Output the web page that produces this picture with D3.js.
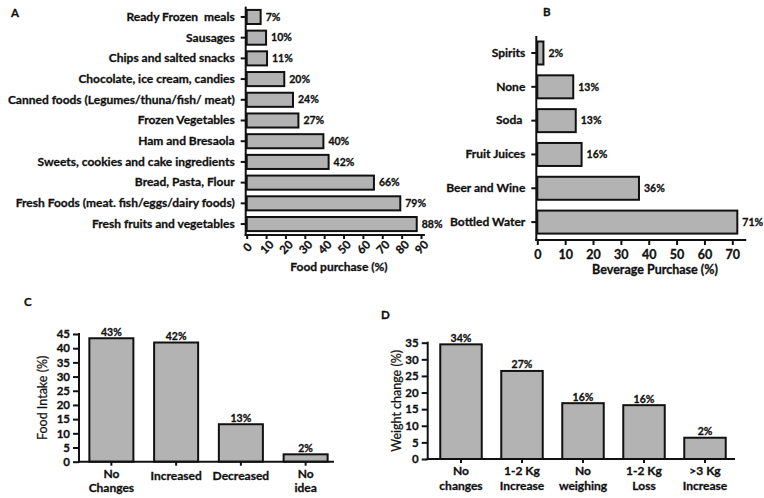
<!DOCTYPE html>
<html><head><meta charset="utf-8">
<script src="https://cdn.jsdelivr.net/npm/d3@7"></script>
<style>
html,body{margin:0;padding:0;background:#fff;}
svg text{font-family:Lato,"Open Sans",sans-serif;fill:#111;white-space:pre;}
svg text.b{stroke:#111;stroke-width:0.3px;}
</style></head>
<body><svg id="chart" width="764" height="498"></svg>
<script>
// ---------- DATA ----------
const foodCategories = ["Ready Frozen  meals","Sausages","Chips and salted snacks","Chocolate, ice cream, candies","Canned foods (Legumes/thuna/fish/ meat)","Frozen Vegetables","Ham and Bresaola","Sweets, cookies and cake ingredients","Bread, Pasta, Flour","Fresh Foods (meat. fish/eggs/dairy foods)","Fresh fruits and vegetables"];
const foodValues = [7.2,10.0,10.5,19.4,23.9,26.7,39.6,42.3,65.7,79.3,87.8];
const foodLabels = ["7%","10%","11%","20%","24%","27%","40%","42%","66%","79%","88%"];
const foodTicks = [0,10,20,30,40,50,60,70,80,90];

const bevCategories = ["Spirits","None","Soda ","Fruit Juices","Beer and Wine","Bottled Water"];
const bevValues = [2.2,12.9,13.8,15.9,36.5,71.8];
const bevLabels = ["2%","13%","13%","16%","36%","71%"];
const bevTicks = [0,10,20,30,40,50,60,70];

const intakeCategories = [["No","Changes"],["Increased"],["Decreased"],["No","idea"]];
const intakeValues = [43.5,42.0,13.2,2.6];
const intakeLabels = ["43%","42%","13%","2%"];
const intakeTicks = [0,5,10,15,20,25,30,35,40,45];

const weightCategories = [["No","changes"],["1-2 Kg","Increase"],["No","weighing"],["1-2 Kg","Loss"],[">3 Kg","Increase"]];
const weightValues = [34.5,26.5,16.8,16.2,6.4];
const weightLabels = ["34%","27%","16%","16%","2%"];
const weightTicks = [0,5,10,15,20,25,30,35];

// ---------- STYLE ----------
const FILL = "#b3b3b3";
const svg = d3.select("#chart");

function styleAxis(g){
  g.select(".domain").remove();
  g.selectAll(".tick line").attr("stroke","#111").attr("stroke-width",2);
}

// ---------- PANEL A ----------
(function(){
  const x = d3.scaleLinear().domain([0,90]).range([246.7,421]);
  const y = d3.scaleBand().domain(foodCategories).range([6.6,234.4]).paddingInner(0.32).paddingOuter(0.16);
  const g = svg.append("g");
  g.selectAll("rect").data(foodValues).join("rect")
    .attr("x",x(0)).attr("y",(d,i)=>y(foodCategories[i]))
    .attr("width",d=>x(d)-x(0)).attr("height",y.bandwidth())
    .attr("fill",FILL).attr("stroke","#111").attr("stroke-width",2);
  g.selectAll("text.val").data(foodValues).join("text").attr("class","val b")
    .attr("x",d=>x(d)+5).attr("y",(d,i)=>y(foodCategories[i])+y.bandwidth()/2)
    .attr("dy","0.35em").attr("font-size",10.5).attr("font-weight","bold")
    .text((d,i)=>foodLabels[i]);
  const ya = g.append("g").attr("transform",`translate(${x(0)-1},0)`)
    .call(d3.axisLeft(y).tickSize(5).tickPadding(6));
  styleAxis(ya);
  ya.selectAll(".tick text").attr("class","b").attr("font-size",12).attr("font-weight","bold");
  const xa = g.append("g").attr("transform",`translate(0,235)`)
    .call(d3.axisBottom(x).tickValues(foodTicks).tickSize(4).tickFormat(d3.format("d")));
  styleAxis(xa);
  xa.selectAll(".tick text").attr("class","b").attr("font-size",11.5).attr("font-weight","bold")
    .attr("text-anchor","middle").attr("y",0).attr("dy",0)
    .attr("transform","translate(1,13) rotate(-45)").attr("dominant-baseline","middle");
  g.append("line").attr("x1",x(0)-1).attr("x2",x(0)-1).attr("y1",6.6).attr("y2",236).attr("stroke","#111").attr("stroke-width",2);
  g.append("line").attr("x1",x(0)-2).attr("x2",x(92)).attr("y1",235).attr("y2",235).attr("stroke","#111").attr("stroke-width",2);
  g.append("text").attr("class","b").attr("x",339).attr("y",271).attr("text-anchor","middle")
    .attr("font-size",12).attr("font-weight","bold").text("Food purchase (%)");
  g.append("text").attr("class","b").attr("x",11).attr("y",17).attr("font-size",11.5).attr("font-weight","bold").text("A");
})();

// ---------- PANEL B ----------
(function(){
  const x = d3.scaleLinear().domain([0,70]).range([537.3,732.3]);
  const y = d3.scaleBand().domain(bevCategories).range([36.1,239]).paddingInner(0.32).paddingOuter(0.16);
  const g = svg.append("g");
  g.selectAll("rect").data(bevValues).join("rect")
    .attr("x",x(0)).attr("y",(d,i)=>y(bevCategories[i]))
    .attr("width",d=>x(d)-x(0)).attr("height",y.bandwidth())
    .attr("fill",FILL).attr("stroke","#111").attr("stroke-width",2);
  g.selectAll("text.val").data(bevValues).join("text").attr("class","val b")
    .attr("x",d=>x(d)+5).attr("y",(d,i)=>y(bevCategories[i])+y.bandwidth()/2)
    .attr("dy","0.35em").attr("font-size",10.5).attr("font-weight","bold")
    .text((d,i)=>bevLabels[i]);
  const ya = g.append("g").attr("transform",`translate(${x(0)-1},0)`)
    .call(d3.axisLeft(y).tickSize(5).tickPadding(6));
  styleAxis(ya);
  ya.selectAll(".tick text").attr("class","b").attr("font-size",12).attr("font-weight","bold");
  const xa = g.append("g").attr("transform",`translate(0,240)`)
    .call(d3.axisBottom(x).tickValues(bevTicks).tickSize(5).tickPadding(5));
  styleAxis(xa);
  xa.selectAll(".tick text").attr("class","b").attr("font-size",12.5).attr("font-weight","bold");
  g.append("line").attr("x1",x(0)-1).attr("x2",x(0)-1).attr("y1",36).attr("y2",241).attr("stroke","#111").attr("stroke-width",2);
  g.append("line").attr("x1",x(0)-2).attr("x2",x(75)).attr("y1",240).attr("y2",240).attr("stroke","#111").attr("stroke-width",2);
  g.append("text").attr("class","b").attr("x",655).attr("y",274).attr("text-anchor","middle")
    .attr("font-size",12.5).attr("font-weight","bold").text("Beverage Purchase (%)");
  g.append("text").attr("class","b").attr("x",543).attr("y",16).attr("font-size",11.5).attr("font-weight","bold").text("B");
})();

// ---------- vertical bar helper ----------
function vPanel(cats, vals, labels, ticks, yMax, xr, yr, axisLeftX, axisRightX, title, titleX, letter, letterPos){
  const names = cats.map(c=>c.join(" "));
  const x = d3.scaleBand().domain(names).range(xr).paddingInner(0.32).paddingOuter(0.16);
  const y = d3.scaleLinear().domain([0,yMax]).range(yr);
  const g = svg.append("g");
  g.selectAll("rect").data(vals).join("rect")
    .attr("x",(d,i)=>x(names[i])).attr("y",d=>y(d))
    .attr("width",x.bandwidth()).attr("height",d=>y(0)-y(d))
    .attr("fill",FILL).attr("stroke","#111").attr("stroke-width",2);
  g.selectAll("text.val").data(vals).join("text").attr("class","val b")
    .attr("x",(d,i)=>x(names[i])+x.bandwidth()/2).attr("y",d=>y(d)-2.5)
    .attr("text-anchor","middle").attr("font-size",10.5).attr("font-weight","bold")
    .text((d,i)=>labels[i]);
  const ya = g.append("g").attr("transform",`translate(${axisLeftX},0)`)
    .call(d3.axisLeft(y).tickValues(ticks).tickSize(6).tickPadding(3));
  styleAxis(ya);
  ya.selectAll(".tick text").attr("class","b").attr("font-size",11.5).attr("font-weight","bold");
  const xa = g.append("g").attr("transform",`translate(0,${y(0)})`)
    .call(d3.axisBottom(x).tickSize(4).tickFormat(""));
  styleAxis(xa);
  cats.forEach((c,i)=>{
    const cx = x(names[i])+x.bandwidth()/2;
    if(c.length===1){
      g.append("text").attr("class","b").attr("x",cx).attr("y",y(0)+14.5).attr("dy","0.35em").attr("text-anchor","middle")
        .attr("font-size",12).attr("font-weight","bold").text(c[0]);
    } else {
      c.forEach((t,j)=>{
        g.append("text").attr("class","b").attr("x",cx).attr("y",y(0)+12+j*14.5).attr("dy","0.35em").attr("text-anchor","middle")
          .attr("font-size",12).attr("font-weight","bold").text(t);
      });
    }
  });
  g.append("line").attr("x1",axisLeftX).attr("x2",axisLeftX).attr("y1",yr[1]-1).attr("y2",y(0)+1).attr("stroke","#111").attr("stroke-width",2);
  g.append("line").attr("x1",axisLeftX-1).attr("x2",axisRightX).attr("y1",y(0)).attr("y2",y(0)).attr("stroke","#111").attr("stroke-width",2);
  g.append("text").attr("transform",`translate(${titleX},${(yr[0]+yr[1])/2}) rotate(-90)`)
    .attr("text-anchor","middle").attr("dy","0.35em").attr("font-size",12.5)
    .attr("stroke","#111").attr("stroke-width",0.25).text(title);
  g.append("text").attr("class","b").attr("x",letterPos[0]).attr("y",letterPos[1]).attr("font-size",11.5).attr("font-weight","bold").text(letter);
}

vPanel(intakeCategories, intakeValues, intakeLabels, intakeTicks, 45, [79,338], [461.7,334], 79, 334,
  "Food Intake (%)", 43, "C", [24,306]);
vPanel(weightCategories, weightValues, weightLabels, weightTicks, 35, [430.5,735.5], [459,342.7], 427.7, 735,
  "Weight change (%)", 397, "D", [381,319]);
</script></body></html>
